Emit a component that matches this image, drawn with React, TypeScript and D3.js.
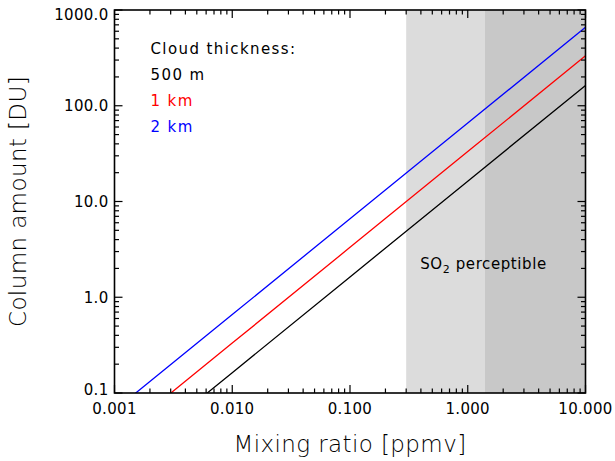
import React, { useEffect, useRef } from "react";
import * as d3 from "d3";

// values
const mixingRatio = [0.001, 0.01, 0.1, 1, 10];
const column500m = [0.0163, 0.163, 1.63, 16.3, 163];
const column1km = [0.0332, 0.332, 3.32, 33.2, 332];
const column2km = [0.066, 0.66, 6.6, 66, 660];

const seriesNames = ["500 m", "1 km", "2 km"];
const seriesColors = ["#000000", "#ff0000", "#0000ff"];

// shaded "perceptible" zones (ppmv)
const zoneEdges = [0.3, 1.4, 10];
const zoneColors = ["#dcdcdc", "#c8c8c8"];

const xTickLabels = ["0.001", "0.010", "0.100", "1.000", "10.000"];
const yTickLabels = ["0.1", "1.0", "10.0", "100.0", "1000.0"];

const FONT = "'DejaVu Sans', sans-serif";

const App = () => {
  const ref = useRef<SVGSVGElement | null>(null);

  useEffect(() => {
    document.body.style.margin = "0";
    const width = 615;
    const height = 461;
    const margin = { top: 10, right: 29.5, bottom: 68, left: 114.5 };
    const w = width - margin.left - margin.right;
    const h = height - margin.top - margin.bottom;

    const svg = d3.select(ref.current);
    svg.selectAll("*").remove();

    const x = d3.scaleLog().domain([0.001, 10]).range([0, w]);
    const y = d3.scaleLog().domain([0.1, 1000]).range([h, 0]);

    svg
      .append("defs")
      .append("clipPath")
      .attr("id", "plotClip")
      .append("rect")
      .attr("width", w)
      .attr("height", h);

    const g = svg
      .append("g")
      .attr("transform", `translate(${margin.left},${margin.top})`)
      .attr("font-family", FONT);

    // grey zones
    zoneColors.forEach((c, i) => {
      g.append("rect")
        .attr("x", x(zoneEdges[i]))
        .attr("y", 0)
        .attr("width", x(zoneEdges[i + 1]) - x(zoneEdges[i]))
        .attr("height", h)
        .attr("fill", c);
    });

    // lines
    const line = d3
      .line<number>()
      .x((d, i) => x(mixingRatio[i]))
      .y((d) => y(d));

    [column500m, column1km, column2km].forEach((vals, i) => {
      g.append("path")
        .datum(vals)
        .attr("clip-path", "url(#plotClip)")
        .attr("fill", "none")
        .attr("stroke", seriesColors[i])
        .attr("stroke-width", 1.3)
        .attr("d", line);
    });

    // axes box and ticks (IDL style, ticks inside on all four sides)
    const isMajor = (v: number) => Math.abs(Math.log10(v) - Math.round(Math.log10(v))) < 1e-6;
    const xt = x.ticks();
    const yt = y.ticks();
    const ticks = g.append("g").attr("stroke", "#000").attr("stroke-width", 1.2);
    xt.forEach((v) => {
      const len = isMajor(v) ? 8 : 4.5;
      ticks.append("line").attr("x1", x(v)).attr("x2", x(v)).attr("y1", h).attr("y2", h - len);
      ticks.append("line").attr("x1", x(v)).attr("x2", x(v)).attr("y1", 0).attr("y2", len);
    });
    yt.forEach((v) => {
      const len = isMajor(v) ? 8 : 4.5;
      ticks.append("line").attr("y1", y(v)).attr("y2", y(v)).attr("x1", 0).attr("x2", len);
      ticks.append("line").attr("y1", y(v)).attr("y2", y(v)).attr("x1", w).attr("x2", w - len);
    });
    g.append("rect")
      .attr("width", w)
      .attr("height", h)
      .attr("fill", "none")
      .attr("stroke", "#000")
      .attr("stroke-width", 1.6);

    // tick labels
    const xMajors = xt.filter(isMajor);
    xMajors.forEach((v, i) => {
      g.append("text")
        .attr("x", x(v))
        .attr("y", h + 21)
        .attr("text-anchor", "middle")
        .attr("font-size", 15)
        .attr("letter-spacing", 0.3)
        .text(xTickLabels[i]);
    });
    const yMajors = yt.filter(isMajor);
    yMajors.forEach((v, i) => {
      g.append("text")
        .attr("x", -6)
        .attr("y", Math.min(Math.max(y(v) + 5.5, 10), h + 1.5))
        .attr("text-anchor", "end")
        .attr("font-size", 15)
        .attr("letter-spacing", 0.3)
        .text(yTickLabels[i]);
    });

    // axis titles (thin, like the IDL vector font)
    g.append("text")
      .attr("x", w / 2)
      .attr("y", h + 59)
      .attr("text-anchor", "middle")
      .attr("font-size", 23)
      .attr("font-weight", 200)
      .attr("letter-spacing", 0.4)
      .text("Mixing ratio [ppmv]");
    g.append("text")
      .attr("transform", `translate(${-89},${h / 2}) rotate(-90)`)
      .attr("text-anchor", "middle")
      .attr("font-size", 23)
      .attr("font-weight", 200)
      .attr("letter-spacing", 0.4)
      .text("Column amount [DU]");

    // legend
    const legend = g.append("g").attr("font-size", 15).attr("letter-spacing", 1.4);
    legend.append("text").attr("x", 36).attr("y", 44).attr("fill", "#000").text("Cloud thickness:");
    seriesNames.forEach((name, i) => {
      legend
        .append("text")
        .attr("x", 36)
        .attr("y", 70 + i * 26)
        .attr("fill", seriesColors[i])
        .text(name);
    });

    // zone annotation
    const ann = g
      .append("text")
      .attr("x", x(zoneEdges[0]) + 14)
      .attr("y", 259)
      .attr("font-size", 15)
      .attr("letter-spacing", 0.6);
    ann.append("tspan").text("SO");
    ann.append("tspan").attr("font-size", 11).attr("dy", 4).text("2");
    ann.append("tspan").attr("dy", -4).text(" perceptible");
  }, []);

  return <svg ref={ref} width={615} height={461} style={{ display: "block" }} />;
};

export default App;
